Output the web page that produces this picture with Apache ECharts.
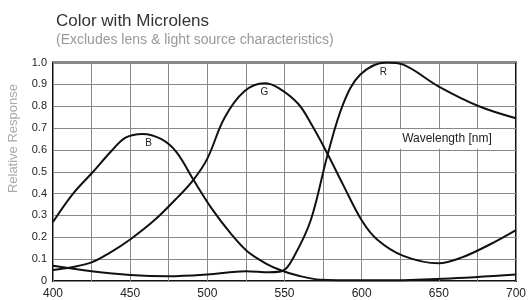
<!DOCTYPE html>
<html>
<head>
<meta charset="utf-8">
<title>Color with Microlens</title>
<script src="https://cdn.jsdelivr.net/npm/echarts@6/dist/echarts.min.js"></script>
<style>
html, body { margin: 0; padding: 0; background: #fff; }
#main { width: 529px; height: 300px; }
</style>
</head>
<body>
<div id="main"></div>
<script>
// values (wavelength nm -> relative response)
var bWave = [400, 413, 426, 438, 447, 458, 470, 480, 491, 503, 516, 526, 538, 548, 558, 573, 600, 627, 653, 700];
var bResp = [0.27, 0.40, 0.50, 0.596, 0.656, 0.673, 0.65, 0.59, 0.463, 0.33, 0.21, 0.135, 0.08, 0.048, 0.026, 0.006, 0.003, 0.004, 0.01, 0.03];

var gWave = [400, 412, 425, 437, 450, 466, 481, 491, 500, 511, 524, 537, 546, 559, 568, 578, 588, 600, 610, 627, 650, 665, 683, 700];
var gResp = [0.05, 0.063, 0.085, 0.13, 0.19, 0.28, 0.385, 0.463, 0.56, 0.745, 0.868, 0.905, 0.884, 0.81, 0.71, 0.58, 0.44, 0.278, 0.19, 0.115, 0.081, 0.108, 0.167, 0.233];

var rWave = [400, 425, 450, 475, 500, 525, 540, 549, 556, 567, 578, 588, 599, 616, 627, 650, 676, 700];
var rResp = [0.07, 0.045, 0.028, 0.022, 0.03, 0.045, 0.04, 0.047, 0.11, 0.278, 0.58, 0.81, 0.944, 1.0, 0.99, 0.89, 0.8, 0.745];

var xTicks = [400, 450, 500, 550, 600, 650, 700];

function pairs(xs, ys) {
  var out = [];
  for (var i = 0; i < xs.length; i++) out.push([xs[i], ys[i]]);
  return out;
}

function curve(name, xs, ys, tag, at) {
  return {
    name: name,
    type: 'line',
    data: pairs(xs, ys),
    smooth: 0.35,
    showSymbol: false,
    lineStyle: { color: '#111', width: 2 },
    markPoint: {
      symbol: 'circle', symbolSize: 0, silent: true,
      label: { show: true, position: 'inside', formatter: tag, color: '#222', fontSize: 10, fontFamily: 'Liberation Sans' },
      data: [{ coord: at }]
    }
  };
}

var myChart = echarts.init(document.getElementById('main'));
var series = [
  curve('B', bWave, bResp, 'B', [462, 0.63]),
  curve('G', gWave, gResp, 'G', [537, 0.865]),
  curve('R', rWave, rResp, 'R', [614, 0.955])
];
// white box behind the axis note, sits over the grid
series[2].markArea = {
  silent: true,
  itemStyle: { color: '#fff' },
  label: { show: true, position: 'inside', color: '#222', fontSize: 12, fontFamily: 'Liberation Sans' },
  data: [[{ name: 'Wavelength [nm]', coord: [612, 0.605] }, { coord: [698.5, 0.695] }]]
};

var option = {
  animation: false,
  title: {
    text: 'Color with Microlens',
    subtext: '(Excludes lens & light source characteristics)',
    left: 51, top: 8, itemGap: 3,
    textStyle: { color: '#333', fontSize: 17, fontWeight: 'normal', fontFamily: 'Liberation Sans' },
    subtextStyle: { color: '#999', fontSize: 14, fontFamily: 'Liberation Sans' }
  },
  graphic: [{
    type: 'text', left: 7, top: 84, rotation: Math.PI / 2,
    style: { text: 'Relative Response', fill: '#aaa', fontSize: 13, fontFamily: 'Liberation Sans' }
  }],
  grid: { left: 53, right: 9, top: 62.5, bottom: 12.5, show: true, borderColor: '#111', borderWidth: 2 },
  xAxis: {
    type: 'value', min: 400, max: 700, interval: 25,
    axisLine: { show: false }, axisTick: { show: false },
    splitLine: { lineStyle: { color: '#888', width: 1 } },
    axisLabel: {
      margin: 7, color: '#222', fontSize: 12, fontFamily: 'Liberation Sans',
      formatter: function (v) { return xTicks.indexOf(v) >= 0 ? String(v) : ''; }
    }
  },
  yAxis: {
    type: 'value', min: 0, max: 1, interval: 0.1,
    axisLine: { show: false }, axisTick: { show: false },
    splitLine: { lineStyle: { color: '#888', width: 1 } },
    axisLabel: {
      margin: 6, color: '#222', fontSize: 11, fontFamily: 'Liberation Sans',
      formatter: function (v) { return v === 0 ? '0' : v.toFixed(1); }
    }
  },
  series: series
};
myChart.setOption(option);
</script>
</body>
</html>
